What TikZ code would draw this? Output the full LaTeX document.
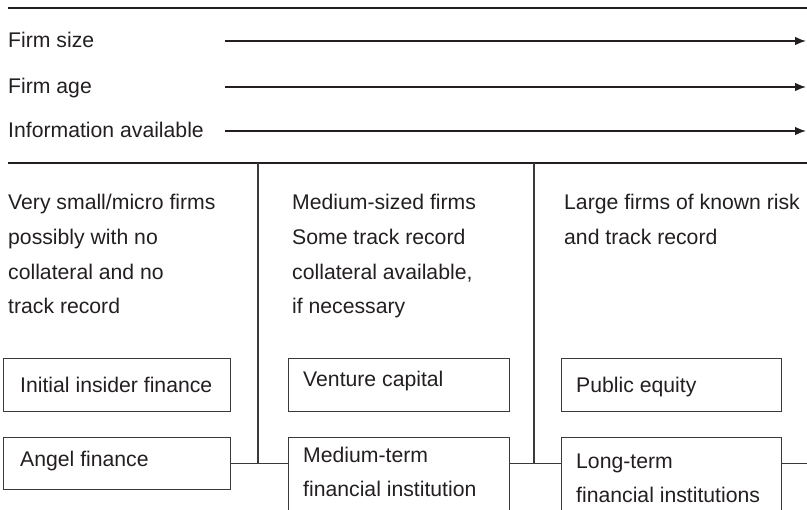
\documentclass[tikz,border=0pt]{standalone}
\usepackage{fontspec}
\setmainfont{Liberation Sans}
\usetikzlibrary{arrows.meta,calc}
\definecolor{ink}{HTML}{231F20}
\definecolor{frame}{HTML}{3A3A3A}
\begin{document}
\begin{tikzpicture}[x=1pt,y=-1pt,
  txt/.style={anchor=base west, inner sep=0pt, text=ink, align=left,
    font=\fontsize{21.2}{34.7}\selectfont},
  rule/.style={draw=ink, line width=1.5pt},
  axis/.style={draw=ink, line width=1.3pt, -{Latex[length=11pt,width=8.5pt]}},
  fbox/.style={draw=frame, line width=1.2pt, anchor=north west, inner sep=0pt},
  link/.style={draw=frame, line width=1.2pt}]
\useasboundingbox (0,0) rectangle (807,510);
\clip (0,0) rectangle (807,510);

% horizontal rules
\coordinate (topL) at (8,8);
\coordinate (topR) at (807,8);
\coordinate (midL) at (8,163);
\coordinate (midR) at (807,163);
\draw[rule] (topL) -- (topR);
\draw[rule] (midL) -- (midR);

% growth axes
\node[txt] (size) at (8,48) {Firm size};
\node[txt] (age) at (8,94) {Firm age};
\node[txt] (info) at (8,138) {Information available};
\coordinate (sizeS) at (225,41);
\coordinate (sizeE) at (806,41);
\coordinate (ageS) at (225,87);
\coordinate (ageE) at (806,87);
\coordinate (infoS) at (225,131);
\coordinate (infoE) at (806,131);
\draw[axis] (sizeS) -- (sizeE);
\draw[axis] (ageS) -- (ageE);
\draw[axis] (infoS) -- (infoE);

% firm descriptions (anchored at the baseline of the last line)
\node[txt] (small) at (8,314) {Very small/micro firms\\possibly with no\\collateral and no\\track record};
\node[txt] (medfirm) at (292,314) {Medium-sized firms\\Some track record\\collateral available,\\if necessary};
\node[txt] (large) at (564,244.5) {Large firms of known risk\\and track record};

% sources of finance
\node[fbox, minimum width=227pt, minimum height=53pt] (insider) at (3,358) {};
\node[fbox, minimum width=227pt, minimum height=52pt] (angel) at (3,437) {};
\node[fbox, minimum width=221pt, minimum height=53pt] (venture) at (288,358) {};
\node[fbox, minimum width=221pt, minimum height=85pt] (medium) at (288,437) {};
\node[fbox, minimum width=220pt, minimum height=53pt] (public) at (561,358) {};
\node[fbox, minimum width=220pt, minimum height=85pt] (long) at (561,437) {};

\node[txt] (insiderT) at (20,393) {Initial insider finance};
\node[txt] (angelT) at (20,467) {Angel finance};
\node[txt] (ventureT) at (303,387) {Venture capital};
\node[txt] (mediumT) at (303,497) {Medium-term\\financial institution};
\node[txt] (publicT) at (576,393) {Public equity};
\node[txt] (longT) at (576,503) {Long-term\\financial institutions};

% column dividers and links
\coordinate (divA) at (258,163);
\coordinate (divB) at (534,163);
\coordinate (edge) at (807,463);
\draw[link] (divA) -- (divA |- angel.east);
\draw[link] (divB) -- (divB |- angel.east);
\draw[link] (angel.east) -- (angel.east -| medium.west);
\draw[link] (angel.east -| medium.east) -- (angel.east -| long.west);
\draw[link] (angel.east -| long.east) -- (angel.east -| edge);
\end{tikzpicture}
\end{document}
